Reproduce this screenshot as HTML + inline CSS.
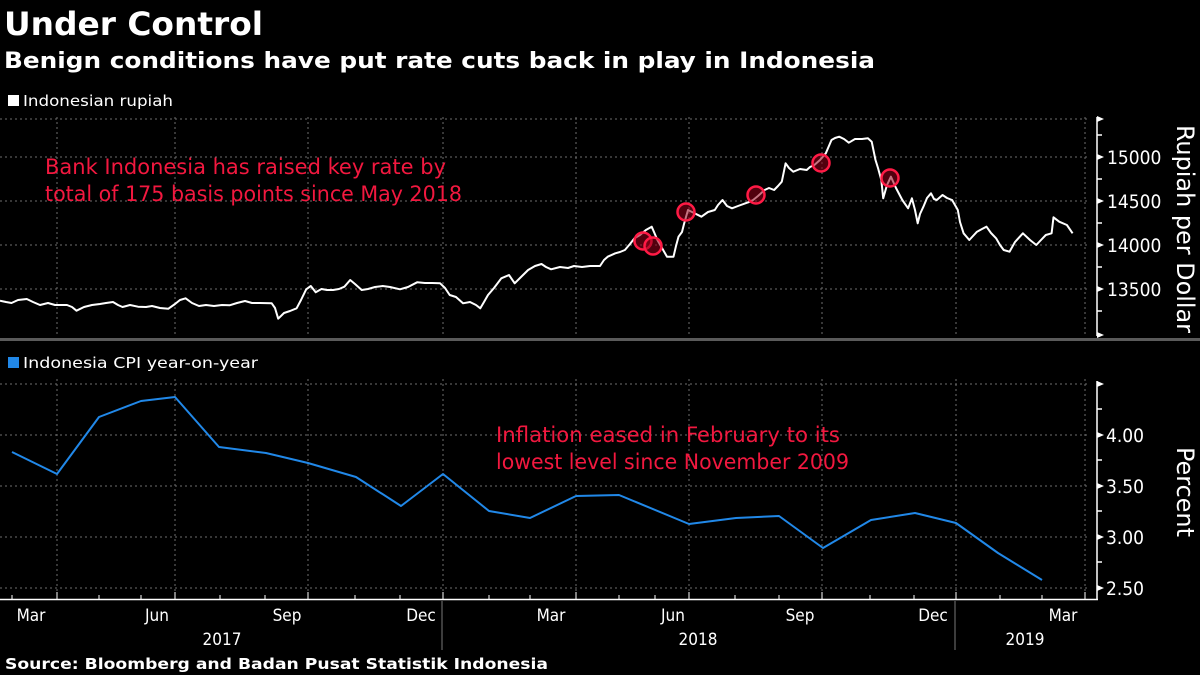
<!DOCTYPE html>
<html><head><meta charset="utf-8"><style>
html,body{margin:0;padding:0;background:#000;}
svg{display:block;}
text{font-family:"DejaVu Sans Condensed","DejaVu Sans","Liberation Sans",sans-serif;}
</style></head><body>
<svg width="1200" height="675" viewBox="0 0 1200 675" xmlns="http://www.w3.org/2000/svg">
<rect width="1200" height="675" fill="#000"/>
<text x="4" y="35" fill="#fff" font-size="32" font-weight="bold" textLength="259" lengthAdjust="spacingAndGlyphs">Under Control</text>
<text x="4" y="68" fill="#fff" font-size="22" font-weight="bold" textLength="871" lengthAdjust="spacingAndGlyphs">Benign conditions have put rate cuts back in play in Indonesia</text>

<rect x="8" y="95" width="11" height="11" fill="#fff"/>
<text x="23" y="106" fill="#fff" font-size="15" textLength="150" lengthAdjust="spacingAndGlyphs">Indonesian rupiah</text>

<g stroke="#6e6e6e" stroke-width="1" stroke-dasharray="2,3">
<line x1="0" y1="119" x2="1090" y2="119"/>
<line x1="0" y1="157" x2="1090" y2="157"/>
<line x1="0" y1="201" x2="1090" y2="201"/>
<line x1="0" y1="245" x2="1090" y2="245"/>
<line x1="0" y1="289" x2="1090" y2="289"/>
<line x1="0" y1="384" x2="1090" y2="384"/>
<line x1="0" y1="435" x2="1090" y2="435"/>
<line x1="0" y1="486" x2="1090" y2="486"/>
<line x1="0" y1="537" x2="1090" y2="537"/>
<line x1="0" y1="588" x2="1090" y2="588"/>
<line x1="57" y1="117" x2="57" y2="337"/><line x1="175" y1="117" x2="175" y2="337"/><line x1="308" y1="117" x2="308" y2="337"/><line x1="443" y1="117" x2="443" y2="337"/><line x1="576" y1="117" x2="576" y2="337"/><line x1="689" y1="117" x2="689" y2="337"/><line x1="822" y1="117" x2="822" y2="337"/><line x1="956" y1="117" x2="956" y2="337"/><line x1="1085" y1="117" x2="1085" y2="337"/>
<line x1="57" y1="379" x2="57" y2="598"/><line x1="175" y1="379" x2="175" y2="598"/><line x1="308" y1="379" x2="308" y2="598"/><line x1="443" y1="379" x2="443" y2="598"/><line x1="576" y1="379" x2="576" y2="598"/><line x1="689" y1="379" x2="689" y2="598"/><line x1="822" y1="379" x2="822" y2="598"/><line x1="956" y1="379" x2="956" y2="598"/><line x1="1085" y1="379" x2="1085" y2="598"/>
</g>

<rect x="0" y="338" width="1200" height="3" fill="#5a5a5a"/>

<g stroke="#fff" stroke-width="1.5" fill="none">
<line x1="1097" y1="117" x2="1097" y2="336"/>
<line x1="1097" y1="135" x2="1102" y2="135"/><line x1="1097" y1="179" x2="1102" y2="179"/><line x1="1097" y1="223" x2="1102" y2="223"/><line x1="1097" y1="267" x2="1102" y2="267"/><line x1="1097" y1="311" x2="1102" y2="311"/>
</g>
<g fill="#fff">
<polygon points="1097,116 1104,119 1097,122"/>
<polygon points="1097,154 1104,157 1097,160"/><polygon points="1097,198 1104,201 1097,204"/><polygon points="1097,242 1104,245 1097,248"/><polygon points="1097,286 1104,289 1097,292"/><polygon points="1097,332 1104,335 1097,338"/>
</g>
<g fill="#fff" font-size="19">
<text x="1107" y="164">15000</text><text x="1107" y="208">14500</text><text x="1107" y="252">14000</text><text x="1107" y="296">13500</text>
</g>
<text transform="translate(1177,229) rotate(90)" text-anchor="middle" fill="#fff" font-size="24" textLength="208" lengthAdjust="spacingAndGlyphs">Rupiah per Dollar</text>

<polyline fill="none" stroke="#fff" stroke-width="2" stroke-linejoin="round" points="0,300.7 6,302 11.5,303 18,300 26.8,299 33,302 40,305 48,303 55,305 67,305 72,307 76.5,310.7 84,307 92,305 100,304 106,303 113,302 118,305 122.5,307 130,305 138,306.7 146,307 152,306 160,308 168.4,308.7 175,304 180,300 185.6,298.3 192,303 199,306 206,305 214,306 222,305 229.6,305.3 237,303 245,301 252,303 260,303 271.7,303.3 275,308 278.2,318.7 284,313 290,311 296.6,308.3 301,300 306.2,289.3 310.8,286 315.7,292.3 321.5,289 327,290 333,290 339,289 344.4,286.7 350.2,280 355,284 361.7,290 368,289 375,287 382.7,286 390,287 400,289.3 408,287 417.1,282.3 425,283 432,283 440.1,283.3 445,288 449.7,295 456,297 463,303.3 470,302 476,305 480.3,308.3 484,302 488,295 494,288 501.3,278.3 509,275 514.7,283.3 520,278 528.1,270 535,266 541.5,264 546,267 551.1,269.3 560,267 568,268 574,266 582,267 590,266 600,266 604,260 607.7,256.7 615.3,253.3 620,252 624.9,250 630,244 634.4,238.3 640,235 645.9,230 651.7,226.7 654,232 657.4,240 662,248 667,256.7 673.5,256.7 676,246 678.5,236.7 682,232 684.2,223.3 688,210 694,213 701.4,216.7 708,212 714.8,210 718,205 722.5,200 727,206 732,208.3 738,206 745.4,203.3 749,202 753.1,200 758,196 764.6,190 769,188 774.1,190 778,186 781.8,181.7 785.6,163.3 789,168 793.3,171.7 800,169 806.7,170 810,167 814.3,165 820,160 825.8,153.3 831.5,140 835,138 839.2,136.7 844,139 848.8,142.7 855,139 862,139 867.9,138.3 871.7,141.7 875.5,160 878,168 881.3,180 883.2,198.3 887,185 890.9,176.7 896,188 902.3,200 908.1,208.3 911.9,198.3 915,210 917.7,223.3 920,214 923.4,206.7 927,198 931,193.3 934,199 936.8,200 942.5,195 947,198 952.1,200 957.8,210 960,222 963.6,233.3 969.3,240 973,236 977,231.7 982,229 986.5,226.7 991,233 996.1,238.3 1000,245 1003.7,250 1009.5,251.7 1015,242 1022.9,233.3 1030,240 1036.3,245 1041,240 1045.8,235 1051.6,233.3 1053.5,217.3 1059.2,221.7 1066.9,225 1072.6,233.3"/>

<g fill="rgba(150,0,25,0.55)" stroke="#ff1a45" stroke-width="2.5">
<circle cx="643" cy="241" r="8.5"/><circle cx="653" cy="246" r="8.5"/><circle cx="686" cy="212" r="8.5"/><circle cx="756" cy="195" r="8.5"/><circle cx="821" cy="163" r="8.5"/><circle cx="890" cy="178" r="8.5"/>
</g>

<g fill="#f2183f" font-size="21">
<text x="45" y="174" textLength="401" lengthAdjust="spacingAndGlyphs">Bank Indonesia has raised key rate by</text>
<text x="45" y="201" textLength="417" lengthAdjust="spacingAndGlyphs">total of 175 basis points since May 2018</text>
<text x="496" y="442" textLength="344" lengthAdjust="spacingAndGlyphs">Inflation eased in February to its</text>
<text x="496" y="469" textLength="353" lengthAdjust="spacingAndGlyphs">lowest level since November 2009</text>
</g>

<rect x="8" y="357" width="11" height="11" fill="#2188e8"/>
<text x="23" y="368" fill="#fff" font-size="15" textLength="235" lengthAdjust="spacingAndGlyphs">Indonesia CPI year-on-year</text>

<g stroke="#fff" stroke-width="1.5" fill="none">
<line x1="1097" y1="381" x2="1097" y2="599"/>
<line x1="1097" y1="409" x2="1102" y2="409"/><line x1="1097" y1="460" x2="1102" y2="460"/><line x1="1097" y1="511" x2="1102" y2="511"/><line x1="1097" y1="562" x2="1102" y2="562"/>
</g>
<g fill="#fff">
<polygon points="1097,381 1104,384 1097,387"/><polygon points="1097,432 1104,435 1097,438"/><polygon points="1097,483 1104,486 1097,489"/><polygon points="1097,534 1104,537 1097,540"/><polygon points="1097,585 1104,588 1097,591"/>
</g>
<g fill="#fff" font-size="19">
<text x="1106" y="442">4.00</text><text x="1106" y="493">3.50</text><text x="1106" y="544">3.00</text><text x="1106" y="595">2.50</text>
</g>
<text transform="translate(1177,492) rotate(90)" text-anchor="middle" fill="#fff" font-size="24" textLength="90" lengthAdjust="spacingAndGlyphs">Percent</text>

<polyline fill="none" stroke="#2188e8" stroke-width="2" stroke-linejoin="round" points="12,452 57,474 99,417 141,401 175,397 219,447 266,453 308,463 356,477 401,506 443,474 489,511 530,518 576,496 619,495 689,524 736,518 779,516 823,548 871,520 915,513 956,523 998,553 1042,580"/>

<line x1="0" y1="599.5" x2="1098" y2="599.5" stroke="#fff" stroke-width="1.5"/>
<g stroke="#fff" stroke-width="1">
<line x1="12" y1="595" x2="12" y2="599"/><line x1="57" y1="592" x2="57" y2="599"/><line x1="99" y1="595" x2="99" y2="599"/><line x1="141" y1="595" x2="141" y2="599"/><line x1="175" y1="592" x2="175" y2="599"/><line x1="220" y1="595" x2="220" y2="599"/><line x1="265" y1="595" x2="265" y2="599"/><line x1="308" y1="592" x2="308" y2="599"/><line x1="355" y1="595" x2="355" y2="599"/><line x1="400" y1="595" x2="400" y2="599"/><line x1="443" y1="592" x2="443" y2="599"/><line x1="489" y1="595" x2="489" y2="599"/><line x1="530" y1="595" x2="530" y2="599"/><line x1="576" y1="592" x2="576" y2="599"/><line x1="619" y1="595" x2="619" y2="599"/><line x1="655" y1="595" x2="655" y2="599"/><line x1="689" y1="592" x2="689" y2="599"/><line x1="735" y1="595" x2="735" y2="599"/><line x1="779" y1="595" x2="779" y2="599"/><line x1="822" y1="592" x2="822" y2="599"/><line x1="870" y1="595" x2="870" y2="599"/><line x1="914" y1="595" x2="914" y2="599"/><line x1="956" y1="592" x2="956" y2="599"/><line x1="1000" y1="595" x2="1000" y2="599"/><line x1="1042" y1="595" x2="1042" y2="599"/><line x1="1085" y1="592" x2="1085" y2="599"/>
<line x1="442" y1="601" x2="442" y2="650" stroke="#777"/><line x1="955" y1="601" x2="955" y2="650" stroke="#777"/>
</g>
<g fill="#fff" font-size="17" text-anchor="middle">
<text x="31" y="621">Mar</text><text x="157" y="621">Jun</text><text x="287" y="621">Sep</text><text x="421" y="621">Dec</text><text x="551" y="621">Mar</text><text x="673" y="621">Jun</text><text x="800" y="621">Sep</text><text x="933" y="621">Dec</text><text x="1063" y="621">Mar</text>
<text x="222" y="645">2017</text><text x="698" y="645">2018</text><text x="1025" y="645">2019</text>
</g>
<text x="5" y="669" fill="#fff" font-size="15" font-weight="bold" textLength="543" lengthAdjust="spacingAndGlyphs">Source: Bloomberg and Badan Pusat Statistik Indonesia</text>
</svg>
</body></html>
